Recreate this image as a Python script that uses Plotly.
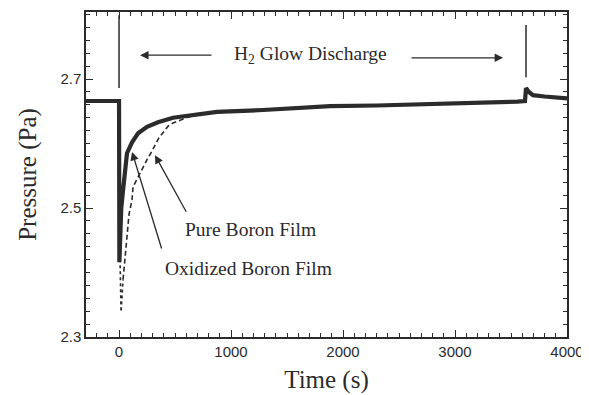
import plotly.graph_objects as go

# ---- data ----
# Oxidized boron film (thick solid trace), time in s, pressure in Pa
oxid_t = [-295, -200, -100, 0, 3, 10, 20, 36, 71, 116, 170, 250, 348, 482, 661, 875,
          1286, 1616, 1884, 2300, 2804, 3200, 3554, 3625, 3634, 3660, 3696, 3800, 3875, 4000]
oxid_p = [2.666, 2.666, 2.666, 2.666, 2.416, 2.45, 2.50, 2.528, 2.585, 2.602, 2.616, 2.626,
          2.633, 2.640, 2.644, 2.649, 2.652, 2.656, 2.658, 2.659, 2.661, 2.663, 2.665, 2.666,
          2.686, 2.680, 2.675, 2.673, 2.672, 2.670]

# Pure boron film (dashed trace); first points are the dotted bottom part
pure_t = [8, 14, 18, 36, 54, 71, 89, 116, 125, 170, 214, 250, 277, 312, 357, 402, 438, 482, 545, 634]
pure_p = [2.43, 2.38, 2.339, 2.389, 2.428, 2.463, 2.490, 2.513, 2.533, 2.548, 2.564, 2.575,
          2.583, 2.595, 2.609, 2.619, 2.627, 2.632, 2.636, 2.642]
n_dotted = 4

# discharge start / end markers
mark_t = [0, 3634]
mark_lo = [2.686, 2.703]
mark_hi = [2.799, 2.784]

x_ticks = [0, 1000, 2000, 3000, 4000]
y_ticks = [2.3, 2.5, 2.7]

ink = "#2b2b2b"
serif = "Liberation Serif, Times New Roman, serif"
sans = "Liberation Sans, Arial, sans-serif"

# the page body adds an 8 px offset; compensate in the margins
OFF = 8

fig = go.Figure()
fig.add_trace(go.Scatter(x=pure_t[:n_dotted], y=pure_p[:n_dotted], mode="lines",
                         line=dict(color=ink, width=1.6, dash="dot"), showlegend=False))
fig.add_trace(go.Scatter(x=pure_t[n_dotted - 1:], y=pure_p[n_dotted - 1:], mode="lines",
                         line=dict(color=ink, width=1.6, dash="5px,3px"), showlegend=False))
fig.add_trace(go.Scatter(x=oxid_t, y=oxid_p, mode="lines",
                         line=dict(color=ink, width=4.2), showlegend=False))

for t, lo, hi in zip(mark_t, mark_lo, mark_hi):
    fig.add_shape(type="line", x0=t, x1=t, y0=lo, y1=hi, xref="x", yref="y",
                  line=dict(color=ink, width=1.5))

arrow_style = dict(xref="x", yref="y", axref="x", ayref="y", text="", showarrow=True,
                   arrowhead=2, arrowsize=1.3, arrowwidth=1.3, arrowcolor=ink,
                   standoff=0, startstandoff=0)
ann = []
ann.append(dict(x=1009, y=2.737, xref="x", yref="y", text="H<sub>2</sub> Glow Discharge",
                showarrow=False, xanchor="left", yanchor="middle",
                font=dict(family=serif, size=19.5, color=ink)))
ann.append(dict(x=188, y=2.737, ax=839, ay=2.737, **arrow_style))
ann.append(dict(x=3429, y=2.733, ax=2598, ay=2.733, **arrow_style))
ann.append(dict(x=571, y=2.466, xref="x", yref="y", text="Pure Boron Film", showarrow=False,
                xanchor="left", yanchor="middle", font=dict(family=serif, size=19.5, color=ink)))
ann.append(dict(x=321, y=2.582, ax=607, ay=2.492, **arrow_style))
ann.append(dict(x=393, y=2.407, xref="x", yref="y", text="Oxidized Boron Film", showarrow=False,
                xanchor="left", yanchor="middle", font=dict(family=serif, size=19.5, color=ink)))
ann.append(dict(x=116, y=2.587, ax=384, ay=2.435, **arrow_style))

fig.update_layout(
    width=589 - OFF, height=395 - OFF,
    margin=dict(l=86 - OFF, r=22, t=12 - OFF, b=58, autoexpand=False),
    paper_bgcolor="white", plot_bgcolor="white",
    annotations=ann,
    font=dict(family=sans, color=ink),
)
fig.update_xaxes(
    range=[-295, 4000], tickvals=x_ticks, ticktext=[str(v) for v in x_ticks],
    ticks="inside", ticklen=7, tickwidth=1.2, tickcolor=ink,
    minor=dict(dtick=100, tick0=0, ticks="inside", ticklen=4, tickcolor=ink, tickwidth=1),
    showline=True, linecolor=ink, linewidth=1.5, mirror="allticks", showgrid=False, zeroline=False,
    tickfont=dict(family=sans, size=15, color=ink),
    title=dict(text="Time (s)", font=dict(family=serif, size=25, color=ink), standoff=12),
)
fig.update_yaxes(
    range=[2.3, 2.804], tickvals=y_ticks, ticktext=[f"{v:.1f}" for v in y_ticks],
    ticks="inside", ticklen=7, tickwidth=1.2, tickcolor=ink,
    minor=dict(dtick=0.02, tick0=2.3, ticks="inside", ticklen=4, tickcolor=ink, tickwidth=1),
    showline=True, linecolor=ink, linewidth=1.5, mirror="allticks", showgrid=False, zeroline=False,
    tickfont=dict(family=sans, size=15, color=ink),
    title=dict(text="Pressure (Pa)", font=dict(family=serif, size=25, color=ink), standoff=17),
)

fig.write_html("out.html")
